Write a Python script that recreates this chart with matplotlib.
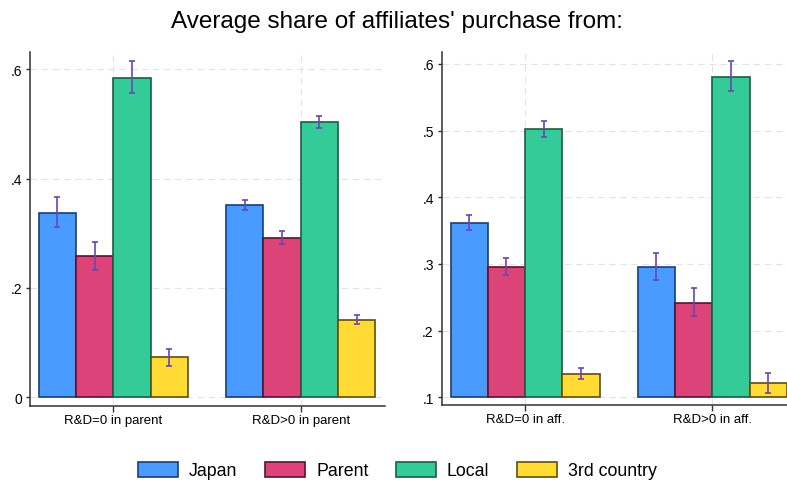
import matplotlib
matplotlib.use("Agg")
import matplotlib.pyplot as plt
import numpy as np
from matplotlib.patches import Patch

plt.rcParams['font.family'] = ['Liberation Sans', 'DejaVu Sans']

series = ["Japan", "Parent", "Local", "3rd country"]
colors = ["#4A9BFF", "#DC4378", "#34CB98", "#FFDB33"]
edges = ["#1C3E6E", "#5A1230", "#1A5E46", "#5E4E10"]

left_groups = ["R&D=0 in parent", "R&D>0 in parent"]
left_vals = {
    "Japan": [0.338, 0.352],
    "Parent": [0.258, 0.291],
    "Local": [0.585, 0.504],
    "3rd country": [0.073, 0.142],
}
left_lo = {
    "Japan": [0.311, 0.342],
    "Parent": [0.233, 0.280],
    "Local": [0.557, 0.493],
    "3rd country": [0.058, 0.135],
}
left_hi = {
    "Japan": [0.367, 0.362],
    "Parent": [0.284, 0.304],
    "Local": [0.616, 0.515],
    "3rd country": [0.089, 0.151],
}

right_groups = ["R&D=0 in aff.", "R&D>0 in aff."]
right_vals = {
    "Japan": [0.361, 0.295],
    "Parent": [0.296, 0.242],
    "Local": [0.502, 0.581],
    "3rd country": [0.135, 0.121],
}
right_lo = {
    "Japan": [0.351, 0.276],
    "Parent": [0.284, 0.222],
    "Local": [0.490, 0.559],
    "3rd country": [0.127, 0.106],
}
right_hi = {
    "Japan": [0.373, 0.316],
    "Parent": [0.309, 0.264],
    "Local": [0.514, 0.605],
    "3rd country": [0.144, 0.137],
}

left_ticks = [0, 0.2, 0.4, 0.6]
left_ticklabels = ["0", ".2", ".4", ".6"]
right_ticks = [0.1, 0.2, 0.3, 0.4, 0.5, 0.6]
right_ticklabels = [".1", ".2", ".3", ".4", ".5", ".6"]

W, H = 787, 485
fig = plt.figure(figsize=(W / 100, H / 100), dpi=100)

def add_axes(x0, x1, ytop, ybot):
    return fig.add_axes([x0 / W, (H - ybot) / H, (x1 - x0) / W, (ybot - ytop) / H])

axL = add_axes(30, 385, 53, 407)
axR = add_axes(441.7, 796.7, 53, 406)

bw = 0.199
errc = "#6A46B4"

def draw(ax, groups, vals, lo, hi, base, ylim, ticks, ticklabels):
    x = np.arange(len(groups))
    for i, s in enumerate(series):
        pos = x + (i - 1.5) * bw
        v = np.array(vals[s])
        ax.bar(pos, v - base, bottom=base, width=bw, color=colors[i],
               edgecolor=edges[i], linewidth=1.2, zorder=3)
        l = np.array(lo[s]); h = np.array(hi[s])
        ax.errorbar(pos, v, yerr=[v - l, h - v], fmt="none", ecolor=errc,
                    elinewidth=1.2, capsize=1.9, capthick=1.2, zorder=4)
    ax.set_xlim(-0.445, 1.45)
    ax.set_ylim(*ylim)
    ax.set_xticks(x)
    ax.set_xticklabels(groups, fontsize=9.5)
    ax.set_yticks(ticks)
    ax.set_yticklabels(ticklabels, fontsize=10)
    ax.grid(True, color="#E4E4E4", linestyle=(0, (6, 4)), linewidth=0.8, zorder=0)
    ax.set_axisbelow(True)
    for sp in ["top", "right"]:
        ax.spines[sp].set_visible(False)
    for sp in ["left", "bottom"]:
        ax.spines[sp].set_color("#333333")
        ax.spines[sp].set_linewidth(1.1)
    ax.tick_params(axis="both", colors="#333333", width=1, labelcolor="black")
    ax.tick_params(axis="y", length=3.2, pad=2.5)
    ax.tick_params(axis="x", length=4, pad=2)

draw(axL, left_groups, left_vals, left_lo, left_hi, 0.0, (-0.016, 0.632),
     left_ticks, left_ticklabels)
draw(axR, right_groups, right_vals, right_lo, right_hi, 0.1, (0.0885, 0.618),
     right_ticks, right_ticklabels)

fig.text(397 / W, 1 - 22 / H, "Average share of affiliates' purchase from:",
         ha="center", va="center", fontsize=17.5)

handles = [Patch(facecolor=colors[i], edgecolor=edges[i], linewidth=1.2) for i in range(4)]
fig.legend(handles, series, loc="center", bbox_to_anchor=(397.5 / W, 1 - 471.5 / H),
           ncol=4, frameon=False, fontsize=12.8, handlelength=2.25, handleheight=0.95,
           columnspacing=1.55, handletextpad=0.62, borderpad=0.2)

fig.savefig("out.png", dpi=100)
